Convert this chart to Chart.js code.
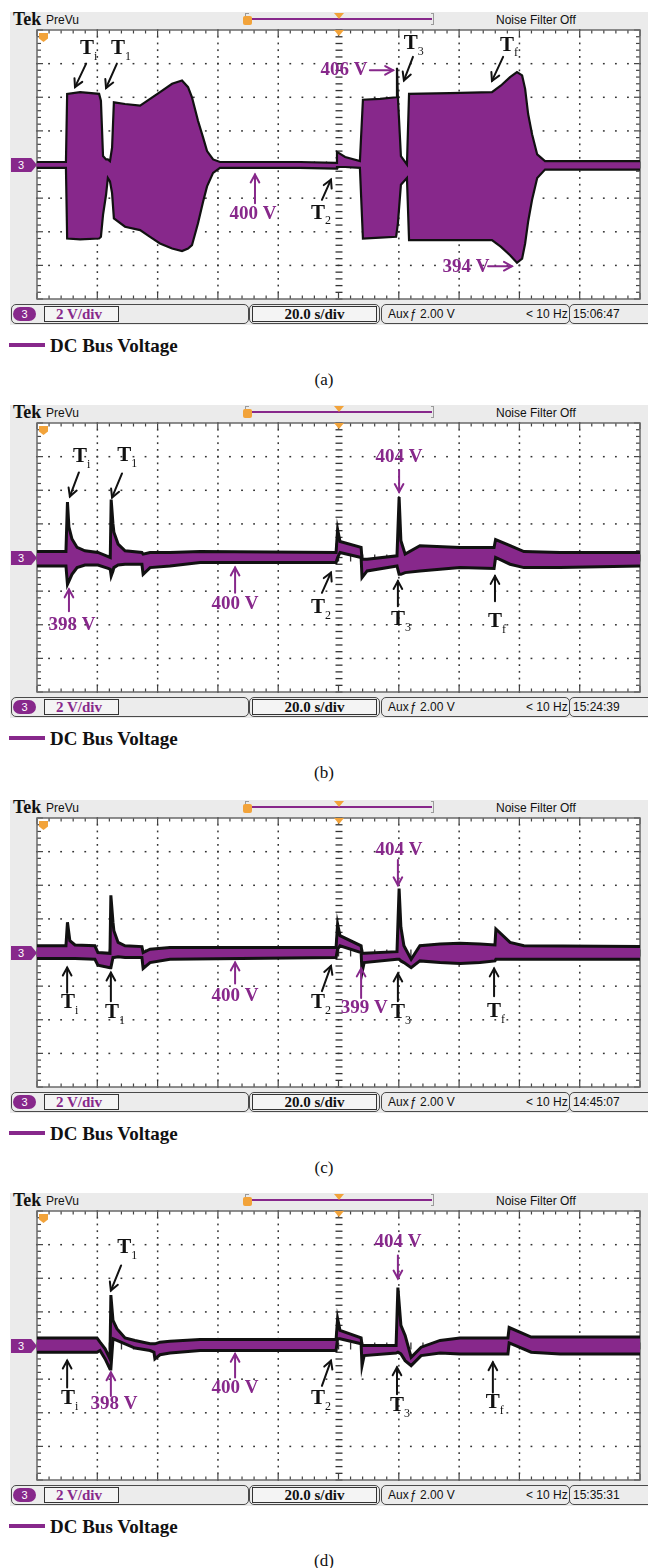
<!DOCTYPE html>
<html>
<head>
<meta charset="utf-8">
<script src="https://cdn.jsdelivr.net/npm/chart.js@4.4.0/dist/chart.umd.min.js"></script>
<style>
  body { margin: 0; background: #fff; width: 648px; height: 1568px; position: relative; overflow: hidden; }
  .panel { position: absolute; left: 0; width: 648px; height: 393px; }
  .panel div { position: absolute; box-sizing: border-box; }
  .scope { left: 10px; top: 12px; width: 638px; height: 313px; background: #ebebeb; }
  .tek { left: 13px; top: 10px; font: bold 18px/18px "Liberation Serif", serif; color: #111; }
  .prevu { left: 46px; top: 14px; font: 12px/12px "Liberation Sans", sans-serif; color: #111; }
  .nf { left: 496px; top: 14px; font: 12px/12px "Liberation Sans", sans-serif; color: #111; }
  .trig-l { left: 245px; top: 13px; width: 4px; height: 12px; border: 1px solid #9a9a9a; border-right: none; }
  .trig-line { left: 249px; top: 18px; width: 183px; height: 2px; background: #87288b; }
  .trig-r { left: 431px; top: 13px; width: 3px; height: 12px; border: 1px solid #9a9a9a; border-left: none; }
  .trig-o { left: 243px; top: 16px; width: 9px; height: 9px; background: #f2a33a; border-radius: 2px; }
  .tri { width: 0; height: 0; border-left: 5px solid transparent; border-right: 5px solid transparent; border-top: 6px solid #f2a33a; }
  .chwrap { left: 32px; top: 25px; width: 613px; height: 279px; }
  .tmark { left: 39px; top: 33px; width: 9px; height: 9px; background: #f2a33a; clip-path: polygon(0 0, 100% 0, 100% 60%, 50% 100%, 0 60%); z-index: 2; }
  .ch3 { left: 11px; top: 158px; width: 26px; height: 14px; background: #87288b; color: #fff; font: 11px/14px "Liberation Sans", sans-serif; padding-left: 7px; clip-path: polygon(0 0, 78% 0, 100% 50%, 78% 100%, 0 100%); }
  .bar { top: 304px; height: 20px; border: 1.5px solid #4a4a4a; border-radius: 5px; background: #ececec; }
  .pill { left: 13px; top: 307px; width: 23px; height: 14px; border-radius: 7px; background: #87288b; color: #fff; font: 11px/14px "Liberation Sans", sans-serif; text-align: center; }
  .vdiv { left: 44px; top: 306px; width: 75px; height: 16px; border: 1px solid #333; background: #f4f4f4; color: #87288b; font: bold 15px/14px "Liberation Serif", serif; padding-left: 11px; }
  .sdiv { left: 252px; top: 306px; width: 125px; height: 16px; border: 1px solid #333; background: #f4f4f4; color: #111; font: bold 15px/14px "Liberation Serif", serif; text-align: center; }
  .stxt { top: 308px; font: 12px/12px "Liberation Sans", sans-serif; color: #111; }
  .legline { left: 9px; top: 343px; width: 36px; height: 4px; background: #87288b; }
  .legtxt { left: 50px; top: 336px; font: bold 19px/19px "Liberation Serif", serif; color: #111; white-space: nowrap; }
  .cap { left: 0; width: 648px; top: 371px; text-align: center; font: 17px/17px "Liberation Serif", serif; color: #111; }
</style>
</head>
<body>
<script>
// DC bus voltage envelopes: time (s), upper and lower edge of the trace (V)
const xDivs = [0, 20, 40, 60, 80, 100, 120, 140, 160, 180, 200];
const yDivs = [392, 394, 396, 398, 400, 402, 404, 406, 408];
const stamps = ['15:06:47', '15:24:39', '14:45:07', '15:35:31'];
const captions = ['(a)', '(b)', '(c)', '(d)'];

const timeA = [0, 9.6, 10.0, 14.3, 20.6, 21.2, 21.9, 22.9, 23.5, 24.2, 24.9, 25.5, 29.2, 34.2, 37.5, 40.8, 44.8, 48.1, 50.1, 51.4, 53.4, 55.1, 56.4, 58.4, 60.7, 87.2, 99.2, 99.5, 102.2, 107.1, 108.1, 113.8, 119.1, 119.4, 119.7, 120.7, 122.7, 123.4, 137.0, 150.9, 153.9, 156.9, 159.2, 160.9, 161.9, 162.9, 164.2, 165.9, 168.5, 200];
const upperA = [400.15, 400.15, 404.2, 404.3, 404.2, 403.8, 400.5, 400.3, 400.3, 400.2, 401.0, 403.7, 403.6, 403.5, 403.9, 404.3, 404.8, 405.0, 404.6, 404.0, 402.6, 401.6, 400.8, 400.3, 400.15, 400.15, 400.1, 400.75, 400.45, 400.2, 403.85, 403.9, 404.0, 405.75, 404.0, 400.5, 400.0, 404.2, 404.25, 404.3, 404.7, 405.2, 405.5, 405.3, 404.5, 403.0, 401.8, 400.6, 400.2, 400.2];
const lowerA = [399.8, 399.8, 395.6, 395.55, 395.6, 395.7, 397.0, 398.2, 399.2, 399.0, 398.3, 396.8, 396.3, 396.1, 395.7, 395.3, 395.0, 394.85, 395.0, 395.2, 396.5, 397.8, 398.7, 399.5, 399.8, 399.8, 399.75, 399.85, 399.85, 399.8, 395.6, 395.65, 395.7, 395.7, 396.5, 398.8, 399.2, 395.5, 395.5, 395.5, 395.1, 394.6, 394.15, 394.4, 395.3, 396.6, 397.9, 399.2, 399.7, 399.7];

const timeB = [0, 9.6, 10.1, 10.6, 11.6, 13.3, 15.9, 20.2, 23.6, 24.3, 24.6, 25.2, 25.5, 26.9, 29.2, 34.8, 35.2, 37.5, 44.1, 54.1, 99.2, 99.7, 100.5, 107.5, 107.8, 109.5, 119.4, 120.1, 120.7, 122.1, 127.0, 140.3, 151.6, 152.1, 156.9, 161.5, 173.5, 200];
const upperB = [400.35, 400.35, 403.3, 401.8, 401.1, 400.6, 400.4, 400.3, 400.05, 400.0, 403.45, 402.0, 401.5, 400.8, 400.4, 400.3, 400.2, 400.3, 400.3, 400.35, 400.3, 401.67, 400.95, 400.6, 399.9, 399.9, 400.1, 403.6, 401.0, 400.2, 400.7, 400.6, 400.6, 401.07, 400.7, 400.35, 400.3, 400.3];
const lowerB = [399.5, 399.5, 398.4, 398.6, 399.0, 399.4, 399.55, 399.55, 399.35, 399.3, 398.9, 399.2, 399.4, 399.55, 399.6, 399.6, 399.0, 399.4, 399.5, 399.7, 399.7, 400.0, 400.3, 400.0, 398.8, 399.2, 399.5, 399.0, 399.0, 399.1, 399.2, 399.4, 399.35, 400.0, 399.6, 399.4, 399.4, 399.5];

const timeC = [0, 9.6, 10.1, 10.9, 12.6, 19.2, 20.2, 24.2, 24.5, 25.2, 25.5, 26.9, 29.2, 34.8, 35.2, 37.5, 44.1, 99.2, 99.7, 100.5, 107.5, 107.8, 108.5, 119.4, 120.1, 120.7, 121.7, 124.1, 127.0, 133.7, 140.3, 146.9, 151.9, 152.2, 156.9, 161.5, 200];
const upperC = [400.4, 400.4, 401.8, 400.7, 400.45, 400.4, 400.0, 399.95, 403.4, 401.8, 401.3, 400.6, 400.4, 400.35, 400.0, 400.2, 400.3, 400.3, 401.7, 401.0, 400.4, 399.95, 399.95, 400.05, 403.8, 401.5, 400.4, 399.6, 400.4, 400.5, 400.55, 400.5, 400.45, 401.4, 400.6, 400.4, 400.35];
const lowerC = [399.65, 399.65, 399.65, 399.65, 399.65, 399.6, 399.25, 399.1, 399.1, 399.7, 399.7, 399.75, 399.7, 399.7, 399.05, 399.4, 399.6, 399.7, 400.2, 400.4, 400.0, 398.8, 399.4, 399.6, 399.6, 399.5, 399.4, 399.1, 399.5, 399.4, 399.35, 399.4, 399.5, 399.6, 399.6, 399.6, 399.6];

const timeD = [0, 19.9, 20.9, 22.6, 24.2, 24.5, 25.2, 26.5, 29.2, 32.5, 37.5, 38.8, 39.1, 40.8, 44.1, 54.1, 99.2, 99.7, 100.5, 107.5, 107.8, 108.5, 119.1, 119.7, 120.7, 122.1, 124.1, 127.4, 133.7, 140.3, 156.2, 156.6, 163.9, 173.5, 200];
const upperD = [400.45, 400.45, 400.2, 399.8, 399.2, 403.0, 401.5, 401.0, 400.45, 400.3, 400.1, 400.1, 400.1, 400.2, 400.25, 400.35, 400.35, 401.6, 400.9, 400.45, 400.0, 400.0, 400.0, 403.45, 401.2, 400.6, 399.3, 399.9, 400.3, 400.45, 400.45, 401.07, 400.5, 400.5, 400.5];
const lowerD = [399.6, 399.6, 399.7, 399.2, 398.6, 398.6, 400.4, 400.3, 400.1, 399.85, 399.7, 399.6, 399.2, 399.45, 399.55, 399.7, 399.7, 400.4, 400.4, 400.1, 398.8, 399.4, 399.55, 399.6, 399.5, 399.1, 398.8, 399.4, 399.55, 399.5, 399.5, 400.15, 399.6, 399.5, 399.5];

// annotations, placed in data units (s, V)
const notesA = [
  { T: 'i', t: 16.6, v: 406.9 }, { arrow: [16.3, 406.0, 12.6, 404.6] },
  { T: '1', t: 26.9, v: 406.9 }, { arrow: [26.5, 406.0, 22.9, 404.55] },
  { text: '406 V', t: 101.8, v: 405.6, p: 1 }, { arrow: [110.4, 405.6, 118.1, 405.6], p: 1 },
  { T: '3', t: 124.0, v: 407.2 }, { arrow: [124.7, 406.4, 121.7, 405.0] },
  { T: 'f', t: 155.9, v: 407.1 }, { arrow: [154.6, 406.4, 150.9, 404.97] },
  { text: '400 V', t: 71.6, v: 397.05, p: 1 }, { arrow: [72.3, 397.7, 72.3, 399.4], p: 1 },
  { T: '2', t: 93.2, v: 397.1 }, { arrow: [94.5, 397.9, 97.5, 399.1] },
  { text: '394 V', t: 142.3, v: 393.9, p: 1 }, { arrow: [149.6, 393.95, 157.5, 393.95], p: 1 }
];
const notesB = [
  { T: 'i', t: 14.3, v: 406.0 }, { arrow: [13.9, 405.06, 10.9, 403.63] },
  { T: '1', t: 28.9, v: 406.07 }, { arrow: [28.2, 405.0, 24.9, 403.57] },
  { text: '398 V', t: 11.6, v: 396.0, p: 1 }, { arrow: [10.6, 396.8, 10.6, 398.1], p: 1 },
  { text: '400 V', t: 65.7, v: 397.2, p: 1 }, { arrow: [65.7, 397.9, 65.7, 399.4], p: 1 },
  { T: '2', t: 93.2, v: 397.0 }, { arrow: [94.5, 397.9, 97.5, 399.1] },
  { text: '404 V', t: 120.1, v: 405.95, p: 1 }, { arrow: [120.1, 405.2, 120.1, 403.9], p: 1 },
  { T: '3', t: 119.7, v: 396.3 }, { arrow: [119.7, 397.1, 119.7, 398.6] },
  { T: 'f', t: 151.9, v: 396.2 }, { arrow: [151.9, 397.4, 151.9, 398.9] }
];
const notesC = [
  { T: 'i', t: 10.3, v: 397.0 }, { arrow: [10.0, 397.6, 10.0, 399.1] },
  { T: '1', t: 24.9, v: 396.4 }, { arrow: [24.5, 397.1, 24.5, 398.8] },
  { text: '400 V', t: 65.7, v: 397.4, p: 1 }, { arrow: [65.7, 398.15, 65.7, 399.4], p: 1 },
  { T: '2', t: 93.2, v: 397.0 }, { arrow: [94.5, 397.7, 97.5, 399.2] },
  { text: '404 V', t: 120.1, v: 406.1, p: 1 }, { arrow: [119.7, 405.5, 119.7, 404.0], p: 1 },
  { text: '399 V', t: 108.5, v: 396.7, p: 1 }, { arrow: [107.5, 397.3, 107.5, 399.05], p: 1 },
  { T: '3', t: 119.7, v: 396.4 }, { arrow: [119.7, 397.1, 119.7, 398.75] },
  { T: 'f', t: 151.6, v: 396.5 }, { arrow: [151.6, 397.4, 151.6, 399.05] }
];
const notesD = [
  { T: 'i', t: 10.3, v: 396.85 }, { arrow: [10.0, 397.5, 10.0, 399.1] },
  { text: '398 V', t: 25.5, v: 396.5, p: 1 }, { arrow: [24.5, 397.0, 24.5, 398.4], p: 1 },
  { T: '1', t: 28.9, v: 405.8 }, { arrow: [27.9, 404.76, 24.5, 403.27] },
  { text: '400 V', t: 65.7, v: 397.44, p: 1 }, { arrow: [65.7, 398.1, 65.7, 399.5], p: 1 },
  { T: '2', t: 93.2, v: 396.85 }, { arrow: [94.5, 397.6, 97.5, 399.1] },
  { text: '404 V', t: 119.7, v: 406.13, p: 1 }, { arrow: [119.7, 405.36, 119.7, 403.99], p: 1 },
  { T: '3', t: 119.4, v: 396.4 }, { arrow: [119.4, 397.1, 119.4, 398.7] },
  { T: 'f', t: 151.2, v: 396.6 }, { arrow: [151.2, 397.2, 151.2, 399.0] }
];

const PURPLE = '#87288b';
const panels = [
  { top: 0, time: timeA, upper: upperA, lower: lowerA, notes: notesA, edge: 2.2 },
  { top: 393, time: timeB, upper: upperB, lower: lowerB, notes: notesB, edge: 3 },
  { top: 788, time: timeC, upper: upperC, lower: lowerC, notes: notesC, edge: 3 },
  { top: 1181, time: timeD, upper: upperD, lower: lowerD, notes: notesD, edge: 3 }
];

function minors(divs) {
  const out = [];
  for (let k = 0; k < divs.length - 1; k++)
    for (let m = 0; m < 5; m++) out.push(divs[k] + (divs[k + 1] - divs[k]) * m / 5);
  out.push(divs[divs.length - 1]);
  return out;
}

// scope graticule: dotted divisions, ticked centre lines and ticked border
const scopeGrid = {
  id: 'scopeGrid',
  beforeDraw(chart) {
    const { ctx, chartArea: a, scales: { x, y } } = chart;
    const xm = minors(xDivs), ym = minors(yDivs);
    ctx.save();
    ctx.fillStyle = '#fff';
    ctx.fillRect(a.left, a.top, a.width, a.height);
    ctx.fillStyle = '#333';
    xDivs.slice(1, -1).forEach(v => {
      const px = x.getPixelForValue(v);
      ym.forEach(w => {
        const py = y.getPixelForValue(w);
        if (v === 100) ctx.fillRect(px - 3, py - 0.6, 7, 1.3);
        else ctx.fillRect(px - 0.7, py - 0.9, 1.5, 1.8);
      });
    });
    yDivs.slice(1, -1).forEach(v => {
      const py = y.getPixelForValue(v);
      xm.forEach(u => {
        const px = x.getPixelForValue(u);
        if (v === 400) ctx.fillRect(px - 0.6, py - 3, 1.3, 7);
        else ctx.fillRect(px - 0.9, py - 0.7, 1.8, 1.5);
      });
    });
    ctx.fillStyle = '#444';
    xm.forEach((u, k) => {
      const px = x.getPixelForValue(u), L = k % 5 === 0 ? 6 : 3.5;
      ctx.fillRect(px - 0.6, a.top, 1.2, L);
      ctx.fillRect(px - 0.6, a.bottom - L, 1.2, L);
    });
    ym.forEach((w, k) => {
      const py = y.getPixelForValue(w), L = k % 5 === 0 ? 6 : 4;
      ctx.fillRect(a.left, py - 0.6, L, 1.2);
      ctx.fillRect(a.right - L, py - 0.6, L, 1.2);
    });
    ctx.strokeStyle = '#6a6a6a';
    ctx.lineWidth = 1.5;
    ctx.strokeRect(a.left, a.top, a.width, a.height);
    ctx.restore();
  }
};

function drawArrow(ctx, x1, y1, x2, y2, color) {
  ctx.strokeStyle = color;
  ctx.lineWidth = 2;
  ctx.lineCap = 'round';
  ctx.beginPath(); ctx.moveTo(x1, y1); ctx.lineTo(x2, y2); ctx.stroke();
  const ang = Math.atan2(y2 - y1, x2 - x1), h = 9;
  ctx.beginPath();
  ctx.moveTo(x2 - h * Math.cos(ang - 0.5), y2 - h * Math.sin(ang - 0.5));
  ctx.lineTo(x2, y2);
  ctx.lineTo(x2 - h * Math.cos(ang + 0.5), y2 - h * Math.sin(ang + 0.5));
  ctx.stroke();
}

function notesPlugin(items) {
  return {
    id: 'notes',
    afterDatasetsDraw(chart) {
      const { ctx, scales: { x, y } } = chart;
      ctx.save();
      items.forEach(n => {
        const col = n.p ? PURPLE : '#111';
        if (n.arrow) {
          const [t1, v1, t2, v2] = n.arrow;
          drawArrow(ctx, x.getPixelForValue(t1), y.getPixelForValue(v1), x.getPixelForValue(t2), y.getPixelForValue(v2), col);
        } else if (n.T) {
          const px = x.getPixelForValue(n.t), py = y.getPixelForValue(n.v);
          ctx.fillStyle = col;
          ctx.font = 'bold 21px "Liberation Serif", serif';
          ctx.textAlign = 'center'; ctx.textBaseline = 'middle';
          ctx.fillText('T', px, py);
          ctx.font = '12px "Liberation Serif", serif';
          ctx.textAlign = 'left';
          ctx.fillText(n.T, px + 7, py + 8);
        } else {
          ctx.fillStyle = col;
          ctx.font = 'bold 19px "Liberation Serif", serif';
          ctx.textAlign = 'center'; ctx.textBaseline = 'middle';
          ctx.fillText(n.text, x.getPixelForValue(n.t), y.getPixelForValue(n.v));
        }
      });
      ctx.restore();
    }
  };
}

panels.forEach((p, i) => {
  const el = document.createElement('div');
  el.className = 'panel';
  el.style.top = p.top + 'px';
  el.innerHTML = `
    <div class="scope"></div>
    <div class="tek">Tek</div><div class="prevu">PreVu</div>
    <div class="trig-l"></div><div class="trig-line"></div><div class="trig-r"></div><div class="trig-o"></div>
    <div class="tri" style="left:334px;top:13px"></div>
    <div class="nf">Noise Filter Off</div>
    <div class="chwrap"><canvas width="613" height="279"></canvas></div>
    <div class="tri" style="left:334px;top:30px;z-index:2"></div>
    <div class="tmark"></div>
    <div class="ch3">3</div>
    <div class="bar" style="left:11px;width:238px"></div>
    <div class="pill">3</div>
    <div class="vdiv">2 V/div</div>
    <div class="bar" style="left:249px;width:131px"></div>
    <div class="sdiv">20.0 s/div</div>
    <div class="bar" style="left:381px;width:189px"></div>
    <div class="stxt" style="left:388px">Aux</div>
    <div class="stxt" style="left:410px">ƒ 2.00 V</div>
    <div class="stxt" style="left:526px">&lt; 10 Hz</div>
    <div class="bar" style="left:569px;width:85px"></div>
    <div class="stxt" style="left:573px">${stamps[i]}</div>
    <div class="legline"></div>
    <div class="legtxt">DC Bus Voltage</div>
    <div class="cap">${captions[i]}</div>`;
  document.body.appendChild(el);

  new Chart(el.querySelector('canvas'), {
    type: 'line',
    data: {
      datasets: [
        {
          data: p.time.map((t, j) => ({ x: t, y: p.upper[j] })),
          borderColor: '#111', borderWidth: p.edge, backgroundColor: PURPLE,
          fill: '+1', pointRadius: 0, tension: 0
        },
        {
          data: p.time.map((t, j) => ({ x: t, y: p.lower[j] })),
          borderColor: '#111', borderWidth: p.edge,
          fill: false, pointRadius: 0, tension: 0
        }
      ]
    },
    options: {
      responsive: false,
      animation: false,
      events: [],
      layout: { padding: 5 },
      scales: {
        x: { type: 'linear', min: 0, max: 200, display: false },
        y: { type: 'linear', min: 392, max: 408, display: false }
      },
      plugins: {
        legend: { display: false },
        tooltip: { enabled: false },
        filler: { drawTime: 'beforeDatasetsDraw' }
      }
    },
    plugins: [scopeGrid, notesPlugin(p.notes)]
  });
});
</script>
</body>
</html>
